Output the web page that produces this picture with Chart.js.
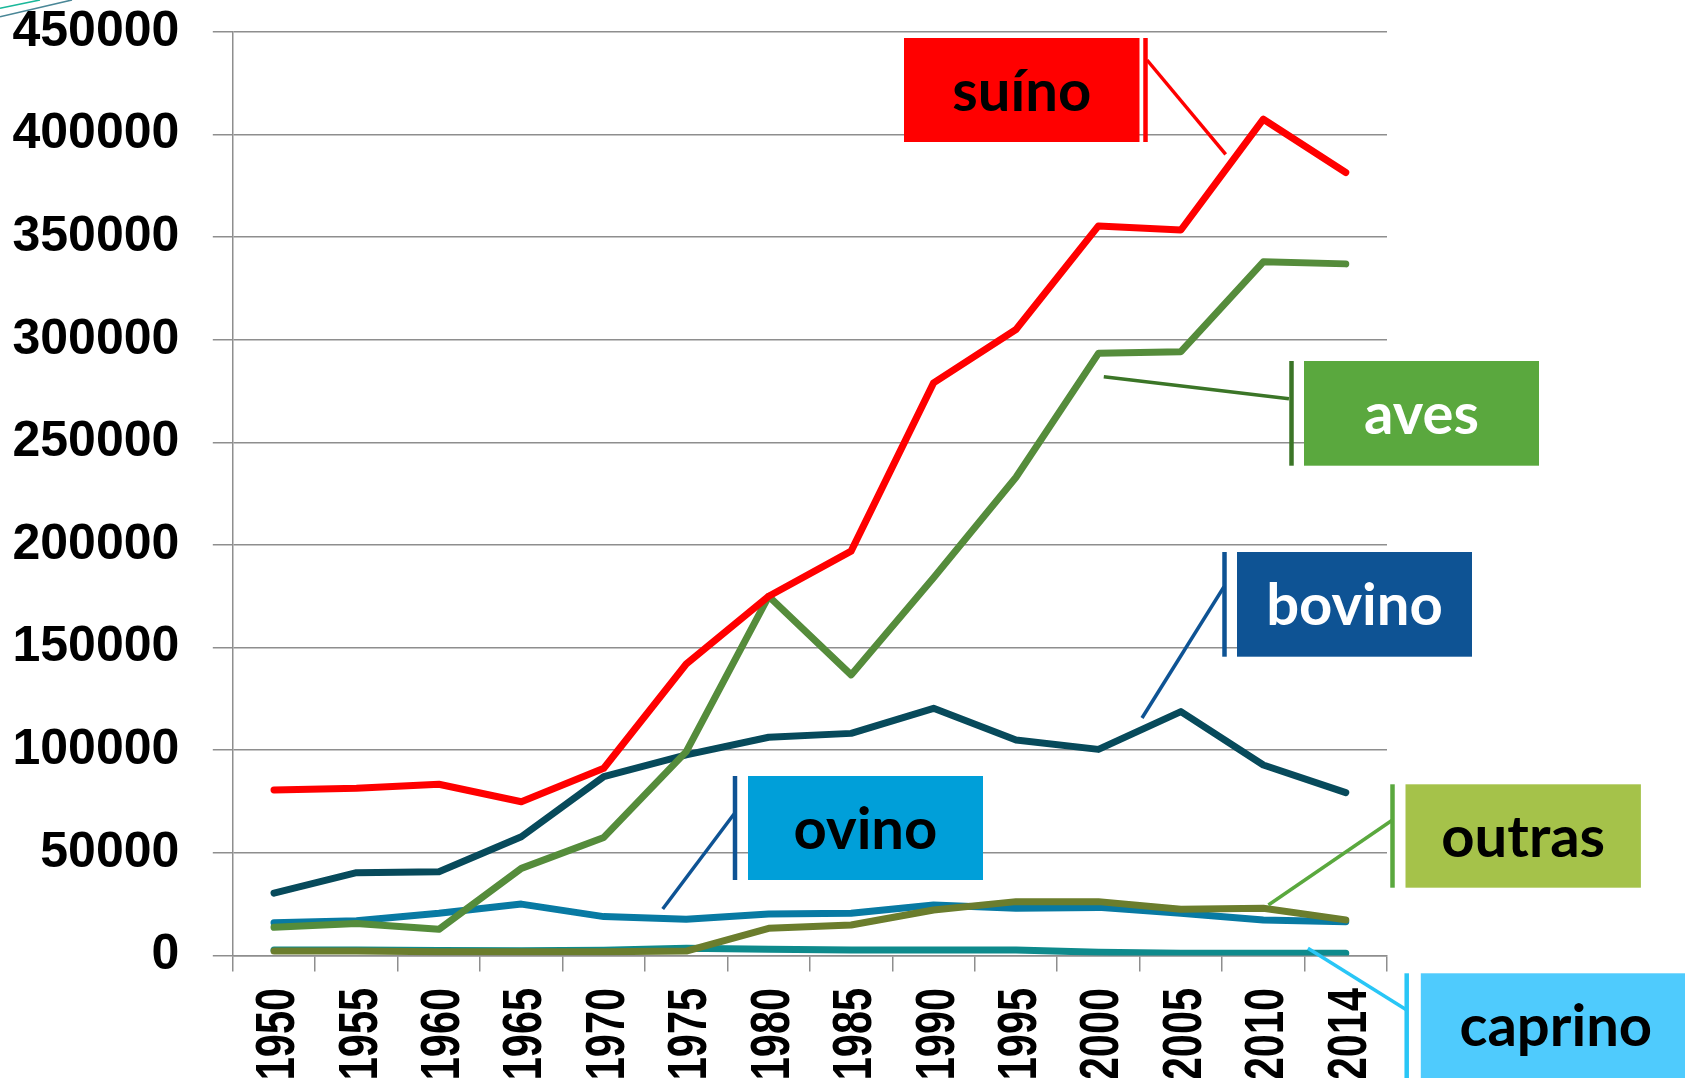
<!DOCTYPE html>
<html>
<head>
<meta charset="utf-8">
<script src="https://cdn.jsdelivr.net/npm/chart.js@4.4.1/dist/chart.umd.min.js"></script>
<style>
html,body{margin:0;padding:0;background:#fff;overflow:hidden;}
canvas{display:block;}
</style>
</head>
<body>
<canvas id="c" width="1685" height="1078"></canvas>
<script>
// ---- data ----
const years = ["1950","1955","1960","1965","1970","1975","1980","1985","1990","1995","2000","2005","2010","2014"];
const suino   = [80600, 81400, 83400, 74900, 91200, 142000, 175000, 197000, 279000, 305000, 355500, 353500, 407500, 381500];
const aves    = [13700, 15600, 12700, 42400, 57500, 99300, 175000, 136700, 184000, 233000, 293400, 294200, 338000, 337000];
const bovino  = [30300, 40300, 40800, 57800, 87100, 97700, 106300, 108200, 120400, 105000, 100400, 118800, 92800, 79300];
const ovino   = [15900, 16900, 20500, 25000, 18900, 17600, 20200, 20500, 24600, 23000, 23400, 20500, 17300, 16400];
const outras  = [2100, 2100, 1800, 1800, 1800, 2100, 13200, 14800, 22100, 26200, 26200, 22500, 23000, 17300];
const caprino = [2600, 2600, 2400, 2300, 2500, 3500, 3000, 2600, 2600, 2600, 1500, 1000, 1000, 1000];
const yTicks  = [0, 50000, 100000, 150000, 200000, 250000, 300000, 350000, 400000, 450000];

// ---- callout decorations (pixel layout) ----
const callouts = [
  {text:"suíno",  box:[904,38,235.5,104],   fill:"#ff0000", tc:"#000000", bar:1145.5, bc:"#ff0000", lead:[1147,60,1225.7,154.3]},
  {text:"aves",   box:[1304,361,235,104.7], fill:"#5aa83e", tc:"#ffffff", bar:1291.5, bc:"#3b7527", lead:[1289,398.7,1103.8,376.7]},
  {text:"bovino", box:[1237,552,235,104.7], fill:"#0e5394", tc:"#ffffff", bar:1224.5, bc:"#0e5394", lead:[1224,586.7,1142,718]},
  {text:"ovino",  box:[748,776,235,104],    fill:"#009fd9", tc:"#000000", bar:735,    bc:"#0e5394", lead:[735,812.7,662.7,909]},
  {text:"outras", box:[1405.5,784.3,235.4,103.4], fill:"#a5c24a", tc:"#000000", bar:1392.5, bc:"#5aa83e", lead:[1392.5,820,1268.4,905]},
  {text:"caprino",box:[1420.8,973.3,270,110], fill:"#4fcbfd", tc:"#000000", bar:1406.7, bc:"#29c6f6", lead:[1406.7,1010,1307.9,948.3]}
];

// target plot area
const AREA = {top: 32, right: 1387, bottom: 955.4, left: 232.8};
const XFONT = 56, XSQUEEZE = 0.74, XLABEL_GAP = 32.6;

// condensed, rotated category labels drawn at the x scale's tick positions
const xLabelPlugin = {
  id: 'xlabels',
  afterDraw(chart) {
    const sc = chart.scales.x;
    const ctx = chart.ctx;
    ctx.save();
    ctx.fillStyle = '#000';
    ctx.font = 'bold ' + XFONT + 'px "Liberation Sans"';
    ctx.textAlign = 'right';
    ctx.textBaseline = 'alphabetic';
    sc.ticks.forEach((t, i) => {
      const cx = sc.getPixelForTick(i);
      const label = sc.getLabelForValue(t.value);
      ctx.save();
      ctx.translate(cx + 0.358 * XFONT, sc.top + XLABEL_GAP);
      ctx.rotate(-Math.PI / 2);
      ctx.scale(XSQUEEZE, 1);
      ctx.fillText(label, 0, 0);
      ctx.restore();
    });
    ctx.restore();
  }
};

const calloutPlugin = {
  id: 'callouts',
  afterDraw(chart) {
    const ctx = chart.ctx;
    ctx.save();
    ctx.lineWidth = 1.6;
    ctx.strokeStyle = "#1ab89a";
    ctx.beginPath(); ctx.moveTo(0, 8.3); ctx.lineTo(40, 0); ctx.stroke();
    ctx.strokeStyle = "#4a8797";
    ctx.beginPath(); ctx.moveTo(0, 16.7); ctx.lineTo(72, 0); ctx.stroke();

    callouts.forEach(c => {
      const [x, y, w, h] = c.box;
      ctx.fillStyle = c.fill;
      ctx.fillRect(x, y, w, h);
      ctx.strokeStyle = c.bc;
      ctx.lineWidth = 4.5;
      ctx.lineCap = 'butt';
      ctx.beginPath(); ctx.moveTo(c.bar, y); ctx.lineTo(c.bar, y + h); ctx.stroke();
      ctx.lineWidth = 3.5;
      ctx.beginPath(); ctx.moveTo(c.lead[0], c.lead[1]); ctx.lineTo(c.lead[2], c.lead[3]); ctx.stroke();
      ctx.fillStyle = c.tc;
      ctx.font = "bold 58px Lato";
      ctx.textAlign = 'center';
      ctx.textBaseline = 'alphabetic';
      ctx.fillText(c.text, x + w / 2, y + 73);
    });
    ctx.restore();
  }
};

function ds(label, data, color) {
  return {label, data, borderColor: color, backgroundColor: color, borderWidth: 7,
          pointRadius: 0, tension: 0, fill: false, borderCapStyle: 'round', borderJoinStyle: 'round'};
}

const gridColor = '#8e8e8e';

const chart = new Chart(document.getElementById('c'), {
  type: 'line',
  data: {
    labels: years,
    datasets: [
      ds('suíno', suino, '#ff0000'),
      ds('aves', aves, '#558c3b'),
      ds('outras', outras, '#6b7d2d'),
      ds('caprino', caprino, '#0e8a8c'),
      ds('ovino', ovino, '#087aa3'),
      ds('bovino', bovino, '#074a5b')
    ]
  },
  options: {
    responsive: false,
    animation: false,
    layout: {autoPadding: false, padding: {left: 0, right: 298, top: 32, bottom: 0}},
    plugins: {legend: {display: false}, tooltip: {enabled: false}},
    scales: {
      x: {
        type: 'category',
        offset: true,
        grid: {offset: true, drawOnChartArea: false, drawTicks: true, tickLength: 16, color: gridColor, lineWidth: 1.5},
        border: {display: true, color: gridColor, width: 1.5},
        ticks: {display: false, autoSkip: false},
        afterFit(scale) { scale.height = 1078 - AREA.bottom; scale.paddingLeft = 0; scale.paddingRight = 0; }
      },
      y: {
        min: 0, max: 450000,
        afterBuildTicks(scale) { scale.ticks = yTicks.map(v => ({value: v})); },
        grid: {color: gridColor, lineWidth: 1.5, tickLength: 20},
        border: {display: true, color: gridColor, width: 1.5},
        ticks: {padding: 33.5, color: '#000', font: {family: 'Liberation Sans', weight: 'bold', size: 50},
                callback: v => String(v)},
        afterFit(scale) { scale.width = AREA.left; scale.paddingTop = 0; scale.paddingBottom = 0; }
      }
    }
  },
  plugins: [xLabelPlugin, calloutPlugin]
});

(function fix() {
  const ca = chart.chartArea;
  const pad = chart.options.layout.padding;
  const dTop = ca.top - AREA.top;
  const dRight = AREA.right - ca.right;
  if (Math.abs(dTop) > 0.5 || Math.abs(dRight) > 0.5) {
    pad.top = pad.top - dTop;
    pad.right = pad.right - dRight;
    chart.update();
  }
})();
</script>
</body>
</html>
